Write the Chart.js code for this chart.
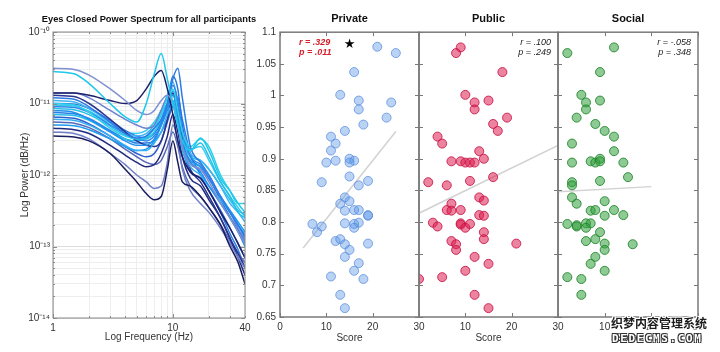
<!DOCTYPE html>
<html>
<head>
<meta charset="utf-8">
<script src="https://cdn.jsdelivr.net/npm/chart.js@4.4.1/dist/chart.umd.min.js"></script>
<style>
  html, body { margin: 0; padding: 0; background: #fff; }
  #wrap { position: relative; width: 720px; height: 352px; overflow: hidden; }
  #wrap canvas { position: absolute; left: 0; top: 0; }
  .wm { position: absolute; font-family: 'Noto Sans CJK SC', sans-serif; font-weight: bold; white-space: nowrap;
        text-shadow: -1px -1px 0 #fff, 1px -1px 0 #fff, -1px 1px 0 #fff, 1px 1px 0 #fff; }
</style>
</head>
<body>
<div id="wrap">
  <canvas id="spectrum" width="720" height="352"></canvas>
  <canvas id="privateChart" width="720" height="352"></canvas>
  <canvas id="publicChart" width="720" height="352"></canvas>
  <canvas id="socialChart" width="720" height="352"></canvas>
  <div class="wm" style="left:611px; top:314px; font-size:12px; color:#1b1b1b;">织梦内容管理系统</div>
  <div class="wm" style="left:612px; top:332px; font-size:11px; color:#fff; letter-spacing:1.6px; font-family:'DejaVu Sans Mono', monospace; text-shadow:-1px -1px 0 #333, 1px -1px 0 #333, -1px 1px 0 #333, 1px 1px 0 #333;">DEDECMS.COM</div>
</div>
<script>
// ---- left panel: power spectra (one array per participant, values in power units) ----
const freqHz = [1, 1.5, 2, 3, 4, 5, 6, 7, 8, 9, 10, 11, 12, 14, 17, 20, 25, 30, 35, 40];
const psd01 = [2.8e-11, 2.6e-11, 1.9e-11, 1.0e-11, 6.5e-12, 5.5e-12, 1.0e-11, 2.6e-11, 5e-11, 2.2e-11, 1.0e-11, 5e-12, 3e-12, 2.2e-12, 3.3e-12, 2.2e-12, 9e-13, 6e-13, 4e-13, 3e-13];
const psd02 = [3.1e-11, 3.0e-11, 2.5e-11, 1.6e-11, 1.1e-11, 8e-12, 7e-12, 8e-12, 1.1e-11, 1.3e-11, 1.0e-11, 5e-12, 2.5e-12, 1.4e-12, 1.2e-12, 8e-13, 4e-13, 2.5e-13, 1.6e-13, 1.1e-13];
const psd03 = [1.4e-11, 1.4e-11, 1.3e-11, 1.1e-11, 1.0e-11, 1.1e-11, 1.6e-11, 2.4e-11, 2.9e-11, 1.6e-11, 7e-12, 3e-12, 1.8e-12, 1.1e-12, 9e-13, 6e-13, 3e-13, 1.8e-13, 1.1e-13, 7e-14];
const psd04 = [1.2e-11, 1.15e-11, 9e-12, 5.5e-12, 3.8e-12, 3.3e-12, 3.5e-12, 4.5e-12, 6e-12, 1.0e-11, 2.2e-11, 3.1e-11, 1.2e-11, 2.5e-12, 1.5e-12, 1.0e-12, 5e-13, 3e-13, 2e-13, 1.4e-13];
const psd05 = [3.5e-12, 3.4e-12, 3.0e-12, 2.0e-12, 1.2e-12, 8e-13, 5.5e-13, 4.5e-13, 5e-13, 1.2e-12, 3e-12, 1.5e-12, 8e-13, 7e-13, 5e-13, 3.5e-13, 2e-13, 1.0e-13, 6e-14, 3e-14];
const psd06 = [4e-12, 3.8e-12, 3.2e-12, 2.0e-12, 1.4e-12, 1.0e-12, 8e-13, 6.5e-13, 7e-13, 1.5e-12, 5e-12, 3e-12, 1.2e-12, 6e-13, 4e-13, 3e-13, 1.8e-13, 1.1e-13, 7e-14, 5e-14];
const psd07 = [1.0e-11, 9.5e-12, 7.5e-12, 4.5e-12, 3.5e-12, 3.2e-12, 3.5e-12, 4.5e-12, 7e-12, 1.2e-11, 1.6e-11, 8e-12, 4e-12, 2.5e-12, 3.2e-12, 2.5e-12, 1.0e-12, 6e-13, 4e-13, 4e-13];
const psd08 = [8e-12, 7.5e-12, 6e-12, 4e-12, 3e-12, 2.6e-12, 2.6e-12, 3.2e-12, 5e-12, 8e-12, 1.3e-11, 7e-12, 2.8e-12, 1.5e-12, 1.1e-12, 7e-13, 4e-13, 2.5e-13, 1.6e-13, 1.0e-13];
const psd09 = [6e-12, 5.8e-12, 5e-12, 3.5e-12, 2.6e-12, 2.2e-12, 2.2e-12, 2.8e-12, 4e-12, 7e-12, 1.0e-11, 5e-12, 2.2e-12, 1.3e-12, 1.0e-12, 7e-13, 4.5e-13, 3e-13, 2e-13, 1.5e-13];
const psd10 = [1.3e-11, 1.25e-11, 1.0e-11, 6e-12, 4e-12, 3e-12, 2.6e-12, 2.5e-12, 3e-12, 6e-12, 1.4e-11, 8e-12, 3e-12, 1.2e-12, 8e-13, 5e-13, 2.5e-13, 1.3e-13, 8e-14, 5e-14];
const psd11 = [9e-12, 8.8e-12, 7.5e-12, 5e-12, 3.8e-12, 3.2e-12, 3e-12, 3.5e-12, 5e-12, 9e-12, 1.8e-11, 1.1e-11, 4e-12, 1.8e-12, 1.4e-12, 9e-13, 5e-13, 3e-13, 2e-13, 1.3e-13];
const psd12 = [7e-12, 6.8e-12, 5.8e-12, 4e-12, 3.2e-12, 3e-12, 3.3e-12, 4.5e-12, 7e-12, 1.0e-11, 1.1e-11, 6e-12, 3.5e-12, 2.2e-12, 2.8e-12, 1.8e-12, 8e-13, 5e-13, 3e-13, 2.5e-13];
const psd13 = [1.4e-11, 1.4e-11, 1.2e-11, 8e-12, 6e-12, 5e-12, 4.5e-12, 5e-12, 8e-12, 1.2e-11, 1.0e-11, 5e-12, 2.5e-12, 1.5e-12, 1.2e-12, 9e-13, 5e-13, 3e-13, 1.8e-13, 1.2e-13];
const psd14 = [4.5e-12, 4.3e-12, 3.8e-12, 2.6e-12, 1.9e-12, 1.5e-12, 1.3e-12, 1.4e-12, 2e-12, 3.5e-12, 7e-12, 4e-12, 1.8e-12, 9e-13, 7e-13, 4.5e-13, 2.5e-13, 1.3e-13, 7e-14, 4e-14];
const psd15 = [5e-12, 4.9e-12, 4.3e-12, 3.2e-12, 2.5e-12, 2.2e-12, 2.3e-12, 3e-12, 5e-12, 9e-12, 1.5e-11, 9e-12, 3e-12, 1.6e-12, 1.3e-12, 9e-13, 5e-13, 3.2e-13, 2.2e-13, 1.6e-13];
const psd16 = [1.1e-11, 1.05e-11, 8.5e-12, 5.5e-12, 4e-12, 3.5e-12, 3.8e-12, 5e-12, 8e-12, 1.3e-11, 2.0e-11, 1.0e-11, 4e-12, 2e-12, 1.6e-12, 1.2e-12, 7e-13, 4e-13, 3e-13, 2.2e-13];
const psd17 = [6.5e-12, 6.2e-12, 5.2e-12, 3.5e-12, 2.5e-12, 2e-12, 1.8e-12, 2e-12, 3e-12, 5.5e-12, 9e-12, 6e-12, 2.5e-12, 1.1e-12, 9e-13, 6e-13, 3.2e-13, 1.8e-13, 1.1e-13, 7e-14];
const psd18 = [8.5e-12, 8.2e-12, 7e-12, 4.8e-12, 3.6e-12, 3.2e-12, 3.2e-12, 4e-12, 6e-12, 1.0e-11, 1.4e-11, 7e-12, 3.2e-12, 1.8e-12, 1.6e-12, 1.2e-12, 7e-13, 4.5e-13, 3.2e-13, 2.8e-13];
const psd19 = [1.0e-11, 9.8e-12, 8.5e-12, 5.8e-12, 4.2e-12, 3.5e-12, 3.3e-12, 3.8e-12, 5.5e-12, 1.0e-11, 2.4e-11, 1.6e-11, 5e-12, 1.8e-12, 1.3e-12, 9e-13, 4.5e-13, 2.6e-13, 1.7e-13, 1.1e-13];
const psd20 = [5.5e-12, 5.3e-12, 4.6e-12, 3.2e-12, 2.3e-12, 1.8e-12, 1.5e-12, 1.4e-12, 1.6e-12, 2.5e-12, 4e-12, 2.5e-12, 1.3e-12, 7e-13, 5e-13, 3.5e-13, 2e-13, 1.2e-13, 8e-14, 6e-14];
const psd21 = [7.5e-12, 7.2e-12, 6.2e-12, 4.2e-12, 3.2e-12, 2.8e-12, 2.8e-12, 3e-12, 4e-12, 6e-12, 1.0e-11, 1.2e-11, 6e-12, 2e-12, 1.0e-12, 6e-13, 3e-13, 1.5e-13, 9e-14, 5e-14];
const psd22 = [9.5e-12, 9.2e-12, 7.8e-12, 5.3e-12, 4e-12, 3.8e-12, 4.2e-12, 5.5e-12, 8e-12, 1.1e-11, 1.0e-11, 5.5e-12, 3.2e-12, 2.3e-12, 2.5e-12, 1.6e-12, 8e-13, 5e-13, 3.5e-13, 2.6e-13];
const lineColors = ['#1ec8ea', '#7f8fd0', '#1b1f68', '#2c7be5', '#1a1d5e', '#6f80c8', '#2ed0ec', '#1f8ff0',
  '#36aef3', '#2a3590', '#2f86ea', '#22bfe9', '#6a82d0', '#222a80', '#1a9bf0', '#3fb3f3',
  '#2e5fcf', '#27c0ea', '#2575e0', '#5868b8', '#2a7fe6', '#38cbee'];
const freqTicks = [1, 2, 3, 4, 5, 6, 7, 8, 9, 10, 20, 30, 40];
const freqLabels = [1, 10, 40];
const powerDecades = [-14, -13, -12, -11, -10];
const powerMantissas = [1, 2, 3, 4, 5, 6, 7, 8, 9];

// ---- right panels: score vs. value ----
const privateScore = [21, 25, 16, 13, 17, 24, 17, 23, 18, 14, 11, 12, 11, 15, 16, 12, 10, 15, 15, 9, 19, 17, 14, 15, 13, 14, 16, 17, 19, 19, 7, 9, 8, 14, 16, 17, 16, 12, 13, 14, 15, 19, 14, 17, 16, 11, 18, 13, 14];
const privateValue = [1.077, 1.067, 1.037, 1.001, 0.992, 0.989, 0.978, 0.965, 0.954, 0.944, 0.935, 0.924, 0.913, 0.900, 0.897, 0.897, 0.894, 0.894, 0.872, 0.863, 0.865, 0.858, 0.839, 0.833, 0.829, 0.818, 0.819, 0.819, 0.811, 0.810, 0.797, 0.793, 0.784, 0.798, 0.797, 0.799, 0.791, 0.770, 0.773, 0.765, 0.756, 0.766, 0.745, 0.735, 0.723, 0.714, 0.710, 0.685, 0.664];
const publicScore = [9, 8, 18, 10, 12, 15, 12, 19, 16, 17, 4, 5, 13, 7, 9, 10, 11, 12, 14, 2, 6, 11, 16, 13, 14, 7, 6, 7, 9, 13, 14, 3, 4, 9, 9, 10, 11, 14, 14, 7, 8, 8, 21, 12, 15, 10, 5, 0, 12, 15];
const publicValue = [1.076, 1.067, 1.037, 1.001, 0.989, 0.992, 0.978, 0.965, 0.955, 0.944, 0.935, 0.924, 0.912, 0.896, 0.896, 0.894, 0.894, 0.894, 0.900, 0.863, 0.858, 0.865, 0.871, 0.839, 0.834, 0.829, 0.819, 0.818, 0.819, 0.811, 0.810, 0.799, 0.793, 0.798, 0.796, 0.791, 0.797, 0.784, 0.773, 0.770, 0.765, 0.756, 0.766, 0.745, 0.734, 0.723, 0.713, 0.710, 0.685, 0.664];
const socialScore = [12, 2, 9, 5, 6, 9, 6, 4, 8, 10, 12, 3, 12, 3, 7, 8, 9, 9, 14, 15, 3, 3, 9, 3, 4, 10, 7, 8, 12, 14, 10, 2, 4, 4, 6, 7, 6, 9, 8, 6, 10, 10, 16, 8, 7, 10, 2, 5, 5];
const socialValue = [1.076, 1.067, 1.037, 1.001, 0.989, 0.992, 0.978, 0.965, 0.955, 0.944, 0.935, 0.924, 0.912, 0.894, 0.896, 0.894, 0.900, 0.896, 0.894, 0.871, 0.863, 0.858, 0.865, 0.839, 0.829, 0.833, 0.818, 0.819, 0.819, 0.811, 0.810, 0.797, 0.795, 0.793, 0.798, 0.798, 0.791, 0.784, 0.773, 0.770, 0.766, 0.756, 0.765, 0.745, 0.734, 0.723, 0.713, 0.710, 0.685];
// regression line end points
const privateFitX = [5, 25];
const privateFitY = [0.759, 0.943];
const publicFitX = [0, 30];
const publicFitY = [0.814, 0.921];
const socialFitX = [0, 20];
const socialFitY = [0.848, 0.856];
const scoreTicks = [0, 10, 20, 30];

Chart.defaults.font.family = "'Liberation Sans', Arial, sans-serif";
Chart.defaults.color = '#333';
Chart.defaults.animation = false;

// box around the axes with small inward ticks (matlab style)
const frameTicks = {
  id: 'frameTicks',
  afterDatasetsDraw(chart, args, opts) {
    const { ctx, chartArea: a } = chart;
    ctx.save();
    ctx.strokeStyle = opts.color;
    ctx.lineWidth = 1;
    ['x', 'y'].forEach(id => {
      const s = chart.scales[id];
      s.ticks.forEach(t => {
        const len = opts.isMajor(t.value) ? 4 : 2;
        const p = Math.round(s.getPixelForValue(t.value)) + 0.5;
        ctx.beginPath();
        if (id === 'x') {
          ctx.moveTo(p, a.bottom); ctx.lineTo(p, a.bottom - len);
          ctx.moveTo(p, a.top); ctx.lineTo(p, a.top + len);
        } else {
          ctx.moveTo(a.left, p); ctx.lineTo(a.left + len, p);
          ctx.moveTo(a.right, p); ctx.lineTo(a.right - len, p);
        }
        ctx.stroke();
      });
    });
    ctx.lineWidth = opts.width;
    ctx.strokeRect(a.left, a.top, a.width, a.height);
    ctx.restore();
  }
};

// heading centred over the plot area, allowed to run wider than it
const wideTitle = {
  id: 'wideTitle',
  afterDraw(chart, args, o) {
    if (!o.text) return;
    const { ctx, chartArea: a } = chart;
    ctx.save();
    ctx.fillStyle = '#111';
    ctx.font = o.font;
    ctx.textAlign = 'center';
    ctx.textBaseline = 'middle';
    ctx.fillText(o.text, (a.left + a.right) / 2, o.y);
    ctx.restore();
  }
};

// r / p text in a corner, plus an optional star
const statNote = {
  id: 'statNote',
  afterDraw(chart, args, o) {
    if (!o.lines) return;
    const { ctx, chartArea: a } = chart;
    ctx.save();
    ctx.fillStyle = o.color;
    ctx.font = o.font;
    ctx.textAlign = o.align;
    ctx.textBaseline = 'middle';
    const x = o.align === 'left' ? a.left + o.dx : a.right - o.dx;
    o.lines.forEach((s, i) => ctx.fillText(s, x, a.top + 10 + i * 10.5));
    if (o.star) {
      ctx.fillStyle = '#000';
      ctx.font = "13px 'DejaVu Sans'";
      ctx.textAlign = 'center';
      ctx.fillText('★', chart.scales.x.getPixelForValue(o.star[0]), chart.scales.y.getPixelForValue(o.star[1]));
    }
    ctx.restore();
  }
};

const supDigits = { '-': '⁻', '0': '⁰', '1': '¹', '2': '²', '3': '³', '4': '⁴', '5': '⁵', '6': '⁶', '7': '⁷', '8': '⁸', '9': '⁹' };
const isDecade = v => {
  const e = Math.round(Math.log10(v));
  return Math.abs(v / Math.pow(10, e) - 1) < 1e-6;
};

// spectrum chart
const spectra = [psd01, psd02, psd03, psd04, psd05, psd06, psd07, psd08, psd09, psd10, psd11,
  psd12, psd13, psd14, psd15, psd16, psd17, psd18, psd19, psd20, psd21, psd22];
const powerTicks = [];
powerDecades.forEach(e => powerMantissas.forEach(m => {
  if (e < -10 || m === 1) powerTicks.push(m * Math.pow(10, e));
}));

new Chart(document.getElementById('spectrum'), {
  type: 'line',
  data: {
    datasets: spectra.map((vals, i) => ({
      data: freqHz.map((f, j) => ({ x: f, y: vals[j] })),
      borderColor: lineColors[i],
      borderWidth: 1.5,
      pointRadius: 0,
      cubicInterpolationMode: 'monotone',
      fill: false
    }))
  },
  options: {
    responsive: false,
    layout: { padding: { left: 15, right: 475, top: 32, bottom: 0 } },
    plugins: {
      legend: { display: false },
      tooltip: { enabled: false },
      title: { display: false },
      wideTitle: { text: 'Eyes Closed Power Spectrum for all participants', font: "bold 9.3px 'Liberation Sans'", y: 19 },
      frameTicks: { color: '#8a8a8a', width: 1, isMajor: v => isDecade(v) }
    },
    scales: {
      x: {
        type: 'logarithmic', min: 1, max: 40,
        afterBuildTicks: s => { s.ticks = freqTicks.map(v => ({ value: v })); },
        afterFit: s => { s.height = 34; },
        border: { display: false },
        grid: { drawTicks: false, tickLength: 0, color: c => (c.tick && isDecade(c.tick.value)) ? '#dcdcdc' : '#eeeeee' },
        ticks: {
          autoSkip: false, maxRotation: 0, padding: 4, color: '#333', font: { size: 10 },
          callback: v => freqLabels.includes(v) ? String(v) : ''
        },
        title: { display: true, text: 'Log Frequency (Hz)', color: '#333', font: { size: 10 }, padding: { top: 0, bottom: 9 } }
      },
      y: {
        type: 'logarithmic', min: 1e-14, max: 1e-10,
        afterBuildTicks: s => { s.ticks = powerTicks.map(v => ({ value: v })); },
        afterFit: s => { s.width = 38; },
        border: { display: false },
        grid: { drawTicks: false, tickLength: 0, color: c => (c.tick && isDecade(c.tick.value)) ? '#dcdcdc' : '#eeeeee' },
        ticks: {
          autoSkip: false, padding: 3, color: '#333', font: { size: 10 },
          callback: v => {
            if (!isDecade(v)) return '';
            const e = String(Math.round(Math.log10(v)));
            return '10' + e.split('').map(ch => supDigits[ch]).join('');
          }
        },
        title: { display: true, text: 'Log Power (dB/Hz)', color: '#333', font: { size: 10 }, padding: { top: 4, bottom: 0 } }
      }
    }
  },
  plugins: [frameTicks, wideTitle]
});

// score panels
function scoreChart(id, title, xs, ys, fitX, fitY, fill, edge, padLeft, padRight, showY, note) {
  new Chart(document.getElementById(id), {
    type: 'scatter',
    data: {
      datasets: [
        {
          data: xs.map((x, i) => ({ x: x, y: ys[i] })),
          backgroundColor: fill, borderColor: edge, borderWidth: 1,
          pointRadius: 4.5, order: 1
        },
        {
          data: fitX.map((x, i) => ({ x: x, y: fitY[i] })),
          showLine: true, borderColor: '#d2d2d2', borderWidth: 1.5,
          pointRadius: 0, order: 2
        }
      ]
    },
    options: {
      responsive: false,
      layout: { padding: { left: padLeft, right: padRight, top: 0, bottom: 0 } },
      plugins: {
        legend: { display: false },
        tooltip: { enabled: false },
        title: {
          display: true, fullSize: false, text: title, color: '#111',
          font: { size: 11, weight: 'bold' }, padding: { top: 12, bottom: 7 }
        },
        frameTicks: { color: '#7a7a7a', width: 1.5, isMajor: () => true },
        statNote: note
      },
      scales: {
        x: {
          type: 'linear', min: 0, max: 30,
          afterBuildTicks: s => { s.ticks = scoreTicks.map(v => ({ value: v })); },
          afterFit: s => { s.height = 35; },
          border: { display: false },
          grid: { display: false, drawTicks: false, tickLength: 0 },
          ticks: {
            padding: 4, color: '#333', font: { size: 10 }, maxRotation: 0,
            callback: v => (!showY && v === 0) ? '' : String(v)
          },
          title: { display: true, text: 'Score', color: '#333', font: { size: 10 }, padding: { top: 0, bottom: 8 } }
        },
        y: {
          type: 'linear', min: 0.65, max: 1.1,
          ticks: { stepSize: 0.05, display: showY, padding: 4, color: '#333', font: { size: 10 },
            callback: v => String(+v.toFixed(2)) },
          afterFit: s => { s.width = showY ? 30 : 0; },
          border: { display: false },
          grid: { display: false, drawTicks: false, tickLength: 0 }
        }
      }
    },
    plugins: [frameTicks, statNote]
  });
}

scoreChart('privateChart', 'Private', privateScore, privateValue, privateFitX, privateFitY,
  'rgba(90,150,230,0.42)', 'rgba(80,135,220,0.7)', 250, 301, true,
  { lines: ['r = .329', 'p = .011'], color: '#d4202c', font: "italic bold 9px 'Liberation Sans'", align: 'left', dx: 19, star: [15, 1.081] });
scoreChart('publicChart', 'Public', publicScore, publicValue, publicFitX, publicFitY,
  'rgba(220,30,80,0.55)', 'rgba(200,20,70,0.85)', 419, 162, false,
  { lines: ['r = .100', 'p = .249'], color: '#222', font: "italic 9px 'Liberation Sans'", align: 'right', dx: 7 });
scoreChart('socialChart', 'Social', socialScore, socialValue, socialFitX, socialFitY,
  'rgba(50,160,60,0.55)', 'rgba(30,130,40,0.85)', 558, 22, false,
  { lines: ['r = -.058', 'p = .348'], color: '#222', font: "italic 9px 'Liberation Sans'", align: 'right', dx: 7 });
</script>
</body>
</html>
